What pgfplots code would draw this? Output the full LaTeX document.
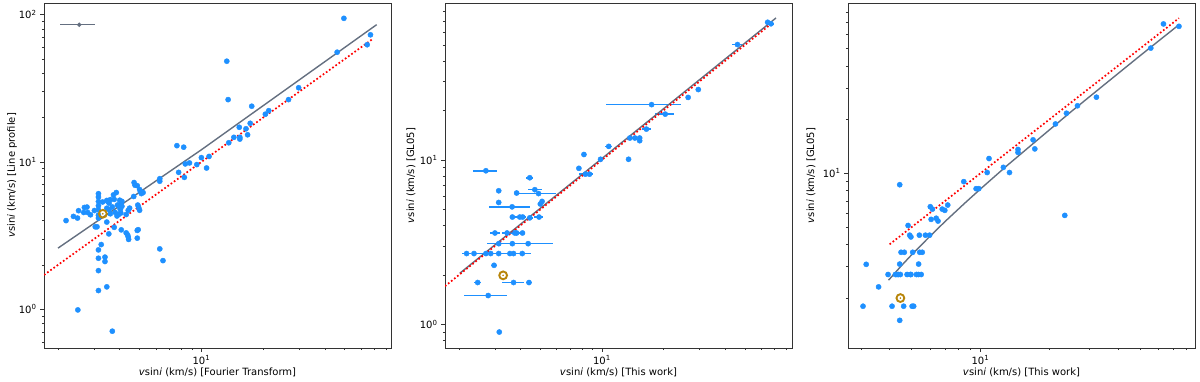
\documentclass[border=0pt]{standalone}
\usepackage{fontspec}
\setmainfont{DejaVu Sans}
\usepackage{pgfplots}
\usepackage{pgfplotstable}
\pgfplotsset{compat=1.18}

\definecolor{dblue}{HTML}{1E90FF}
\definecolor{sgray}{HTML}{646F80}
\definecolor{sun}{HTML}{B8860B}

\newcommand{\tp}[1]{10\textsuperscript{#1}}

\pgfplotsset{
  panelaxis/.style={
    scale only axis, width=347pt, height=345pt,
    tick align=outside, tick pos=left,
    major tick length=4pt, minor tick length=2.2pt,
    every tick/.style={black!80, line width=0.6pt},
    axis line style={line width=0.8pt, black!80},
    tick label style={font=\fontsize{10}{12}\selectfont},
    label style={font=\fontsize{10}{12}\selectfont},
    xtick={10}, xticklabels={\tp{1}},
    minor xtick={2,3,4,5,6,7,8,9,20,30,40,50,60,70,80},
    x label style={at={(axis description cs:0.5,-0.072)}, anchor=center},
  },
  pts/.style={only marks, mark=*, mark size=2.6pt, dblue, mark options={draw=dblue, fill=dblue}},
  fitline/.style={no marks, sgray, line width=1.4pt},
  oneline/.style={no marks, red, line width=1.7pt, dash pattern=on 1.7pt off 2.2pt},
  sunring/.style={only marks, mark=o, mark size=3.9pt, sun, line width=1.9pt},
  sundot/.style={only marks, mark=*, mark size=0.6pt, sun},
}

% panel 1: Fourier transform vs line profile
\pgfplotstableread{
x y
2.19 4.0
2.38 4.27
2.49 4.16
2.52 4.67
2.67 4.54
2.69 4.91
2.77 4.94
2.79 4.54
2.88 4.38
3.01 4.68
3.04 3.63
3.10 3.63
3.15 6.09
3.15 5.78
3.15 5.39
3.15 5.04
3.15 4.73
3.15 4.16
3.15 4.35
3.25 2.75
3.15 2.53
3.15 2.22
3.15 1.83
3.15 1.34
3.39 2.26
3.39 2.11
3.46 1.42
2.50 0.99
3.68 0.71
3.46 3.91
3.54 3.25
3.76 3.6
4.07 3.46
4.30 3.3
4.37 3.2
4.40 3.1
4.42 2.98
4.87 3.43
4.87 3.04
4.92 3.47
4.47 4.86
4.68 5.83
4.70 7.25
4.75 6.95
4.87 6.9
5.00 6.5
5.05 6.3
5.10 6.1
5.20 6.2
4.90 5.1
4.95 4.9
5.00 4.7
4.30 4.4
4.40 4.7
4.00 5.5
4.05 5.2
4.00 4.9
4.05 4.5
3.46 5.48
3.50 5.39
3.55 5.25
3.60 5.55
3.73 5.98
3.85 6.2
3.76 5.57
3.68 4.95
3.90 5.1
3.80 4.55
3.95 4.4
4.03 4.75
4.10 5.4
4.10 5.0
3.88 4.3
3.55 4.75
3.60 4.45
3.46 4.85
3.30 5.35
6.27 7.7
6.27 7.4
6.27 2.57
6.50 2.14
7.60 12.9
8.20 12.6
7.75 8.5
8.26 7.86
8.35 9.7
8.75 9.85
9.50 9.6
10.0 10.7
10.6 9.1
10.9 10.9
13.3 48.3
13.5 26.5
13.6 13.5
14.4 14.7
15.3 17.2
15.4 14.7
15.4 14.3
16.5 16.8
16.8 15.3
17.3 18.3
17.6 23.9
20.5 21.1
21.3 22.3
26.6 26.5
29.8 31.9
45.9 55.6
49.5 94.4
64.3 62.5
66.7 73
}\tabA

% panel 2: this work vs GL05, with x errors
\pgfplotstableread{
x y ex
2.71 8.6 0.37
4.44 7.8 0.17
3.13 6.5 0
3.83 6.3 0
4.70 6.6 0.37
4.90 6.25 1.05
5.00 5.4 0
5.10 5.6 0
3.13 5.52 0
3.64 5.19 0.83
3.65 4.5 0
3.97 4.5 0.3
4.10 4.5 0
4.44 4.45 0.15
4.93 4.5 0.25
3.00 3.6 0.16
3.44 3.6 0.2
3.75 3.6 0.3
3.83 3.6 0
4.09 3.6 0.1
3.13 3.1 0.4
3.65 3.1 0
4.36 3.1 1.4
2.18 2.7 0.12
2.37 2.7 0
2.71 2.7 0.35
2.86 2.7 0
3.13 2.7 0
3.55 2.7 0
3.70 2.7 0.8
4.08 2.7 0
2.97 2.29 0.1
2.47 1.8 0.1
3.70 1.8 0.45
4.40 1.8 0.15
2.78 1.5 0.67
3.15 0.9 0
7.72 8.9 0
8.17 10.8 0
8.30 8.2 0.6
8.70 8.2 0.3
9.85 10.1 0.2
10.8 12.1 0.4
13.5 10.1 0
13.7 13.6 0
14.5 13.6 0.4
15.3 13.6 0
15.3 13.1 0
16.5 15.4 0.8
17.5 21.7 7.0
20.4 19.0 2.2
26.4 24.0 0
29.6 26.8 0
46.0 50.3 2.5
64.6 68.7 1.5
67.1 67.3 2.5
}\tabB

% panel 3: this work vs GL05
\pgfplotstableread{
x y
3.06 1.8
3.16 3.09
3.58 2.31
3.94 2.71
4.24 2.71
4.31 2.71
4.38 2.71
4.46 2.71
4.10 1.8
4.43 8.63
4.43 3.1
4.49 3.61
4.64 3.61
4.61 1.8
4.43 1.5
4.77 2.71
4.93 2.71
4.96 2.71
4.82 5.1
4.90 4.5
4.96 4.4
5.02 1.8
5.10 1.8
5.05 3.61
5.24 2.71
5.35 2.71
5.50 2.71
5.36 3.1
5.40 4.5
5.42 3.61
5.56 3.61
5.74 4.5
5.99 4.5
6.03 6.5
6.16 6.3
6.08 5.52
6.40 5.6
6.52 5.4
6.80 6.3
6.98 6.2
7.19 6.64
8.45 8.98
9.57 8.2
9.83 8.2
10.7 10.1
10.9 12.1
12.6 10.8
13.4 10.1
14.6 13.6
14.6 13.1
17.0 15.4
17.3 13.7
21.3 18.9
23.4 5.81
23.8 21.7
26.6 23.9
32.2 26.7
55.7 50.3
63.3 68.7
74.0 66.6
}\tabC

\begin{document}
\begin{tikzpicture}
\useasboundingbox (0,0) rectangle (1200pt,382pt);

% ---------- panel 1
\begin{loglogaxis}[panelaxis, at={(44pt,34pt)}, anchor=south west,
  xmin=1.71, xmax=84, ymin=0.546, ymax=120,
  ytick={1,10,100}, yticklabels={\tp{0},\tp{1},\tp{2}},
  minor ytick={0.6,0.7,0.8,0.9,2,3,4,5,6,7,8,9,20,30,40,50,60,70,80,90},
  xlabel={\textit{v}sin\textit{i} (km/s) [Fourier Transform]},
  ylabel={\textit{v}sin\textit{i} (km/s) [Line profile]},
  y label style={at={(axis description cs:-0.092,0.5)}, anchor=center}]
\addplot[pts] table {\tabA};
\addplot[oneline] coordinates {(1.71,1.71) (68,68)};
\addplot[fitline] coordinates {(2.0,2.6) (10,12.1) (71.5,85.5)};
\addplot[only marks, mark=*, mark size=1.5pt, sgray, line width=1.2pt,
  error bars/.cd, x dir=both, x explicit, error mark=none,
  error bar style={line width=1.2pt, sgray}]
  coordinates {(2.54,85.5) +- (0.5,0)};
\addplot[sunring] coordinates {(3.31,4.45)};
\addplot[sundot] coordinates {(3.31,4.45)};
\end{loglogaxis}

% ---------- panel 2
\begin{loglogaxis}[panelaxis, at={(445pt,34pt)}, anchor=south west,
  xmin=1.71, xmax=85, ymin=0.72, ymax=90,
  ytick={1,10}, yticklabels={\tp{0},\tp{1}},
  minor ytick={0.8,0.9,2,3,4,5,6,7,8,9,20,30,40,50,60,70,80},
  xlabel={\textit{v}sin\textit{i} (km/s) [This work]},
  ylabel={\textit{v}sin\textit{i} (km/s) [GL05]},
  y label style={at={(axis description cs:-0.098,0.5)}, anchor=center}]
\addplot[pts, error bars/.cd, x dir=both, x explicit, error mark=none,
  error bar style={line width=1.6pt, dblue}]
  table[x=x, y=y, x error=ex] {\tabB};
\addplot[fitline] coordinates {(2.02,2.05) (71,73)};
\addplot[oneline] coordinates {(1.71,1.71) (68,68)};
\addplot[sunring] coordinates {(3.29,1.99)};
\addplot[sundot] coordinates {(3.29,1.99)};
\end{loglogaxis}

% ---------- panel 3
\begin{loglogaxis}[panelaxis, at={(848pt,34pt)}, anchor=south west,
  xmin=2.63, xmax=87, ymin=1.05, ymax=90,
  ytick={10}, yticklabels={\tp{1}},
  minor ytick={2,3,4,5,6,7,8,9,20,30,40,50,60,70,80},
  xlabel={\textit{v}sin\textit{i} (km/s) [This work]},
  ylabel={\textit{v}sin\textit{i} (km/s) [GL05]},
  y label style={at={(axis description cs:-0.107,0.5)}, anchor=center}]
\addplot[pts] table {\tabC};
\addplot[oneline] coordinates {(4.0,4.0) (74,74)};
\addplot[fitline] coordinates {(3.96,2.52) (4.5,3.03) (5,3.5) (6,4.43) (7,5.37) (8.5,6.77) (10,8.17) (13,10.98) (18,15.6) (25,22.2) (35,31.5) (50,45.6) (74,68.0)};
\addplot[sunring] coordinates {(4.46,2.0)};
\addplot[sundot] coordinates {(4.46,2.0)};
\end{loglogaxis}
\end{tikzpicture}
\end{document}
